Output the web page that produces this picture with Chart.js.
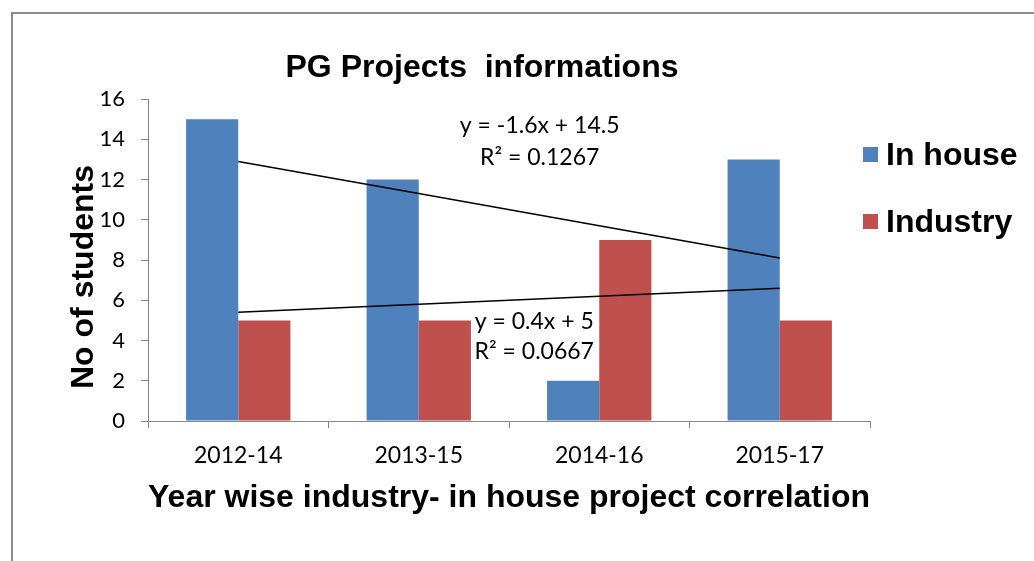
<!DOCTYPE html>
<html>
<head>
<meta charset="utf-8">
<script src="https://cdn.jsdelivr.net/npm/chart.js@4"></script>
<style>
  html, body { margin: 0; padding: 0; background: #fff; }
  #wrap { width: 1034px; height: 561px; position: relative; }
</style>
</head>
<body>
<div id="wrap"><canvas id="myChart" width="1034" height="561"></canvas></div>
<script>
// data
const years = ['2012-14', '2013-15', '2014-16', '2015-17'];
const inHouse = [15, 12, 2, 13];
const industry = [5, 5, 9, 5];
// linear trendlines as shown (y = -1.6x + 14.5 and y = 0.4x + 5)
const inHouseTrend = [12.9, 11.3, 9.7, 8.1];
const industryTrend = [5.4, 5.8, 6.2, 6.6];
const yTicks = [0, 2, 4, 6, 8, 10, 12, 14, 16];

const axisGrey = '#868686';
const bodyFont = 'Lato';
const boldFont = '"Liberation Sans", Arial, sans-serif';

// frame, title, y axis title, legend and trendline equations
const decorPlugin = {
  id: 'decor',
  beforeDraw(chart) {
    const ctx = chart.ctx;
    ctx.save();
    ctx.fillStyle = '#fff';
    ctx.fillRect(0, 0, chart.width, chart.height);
    ctx.strokeStyle = '#8c8c8c';
    ctx.lineWidth = 2;
    ctx.strokeRect(12, 13, chart.width + 20, chart.height + 20);
    ctx.restore();
  },
  afterDatasetsDraw(chart) {
    const ctx = chart.ctx;
    const x = chart.scales.x;
    const y = chart.scales.y;
    const step = x.getPixelForValue(1) - x.getPixelForValue(0);
    ctx.save();

    // title
    ctx.fillStyle = '#000';
    ctx.font = 'bold 32px ' + boldFont;
    ctx.textAlign = 'center';
    ctx.textBaseline = 'middle';
    ctx.fillText('PG Projects  informations', 482, 68);

    // y axis title
    ctx.save();
    ctx.translate(84, 277);
    ctx.rotate(-Math.PI / 2);
    ctx.fillText('No of students', 0, 0);
    ctx.restore();

    // trendline labels
    ctx.font = '23px ' + bodyFont;
    const eqs = [
      ['y = -1.6x + 14.5', 1.67, 14.7],
      ['R² = 0.1267', 1.67, 13.1],
      ['y = 0.4x + 5', 1.64, 4.92],
      ['R² = 0.0667', 1.64, 3.43],
    ];
    eqs.forEach(([t, xi, yv]) => {
      ctx.fillText(t, x.getPixelForValue(0) + xi * step, y.getPixelForValue(yv));
    });

    // legend
    const items = chart.data.datasets.filter(d => d.type !== 'line');
    ctx.font = 'bold 32px ' + boldFont;
    ctx.textAlign = 'left';
    items.forEach((d, i) => {
      const cy = 155 + i * 67;
      ctx.fillStyle = d.backgroundColor;
      ctx.fillRect(863, cy - 8, 15, 15);
      ctx.fillStyle = '#000';
      ctx.fillText(d.label, 886, cy + 1);
    });
    ctx.restore();
  }
};

const ctx = document.getElementById('myChart').getContext('2d');
new Chart(ctx, {
  type: 'bar',
  data: {
    labels: years,
    datasets: [
      {
        type: 'line',
        label: 'In house trend',
        data: inHouseTrend,
        borderColor: '#000',
        borderWidth: 1.5,
        pointRadius: 0,
        fill: false,
        order: 0,
      },
      {
        type: 'line',
        label: 'Industry trend',
        data: industryTrend,
        borderColor: '#000',
        borderWidth: 1.5,
        pointRadius: 0,
        fill: false,
        order: 0,
      },
      {
        label: 'In house',
        data: inHouse,
        backgroundColor: '#4F81BD',
        categoryPercentage: 0.578,
        barPercentage: 1,
        order: 1,
      },
      {
        label: 'Industry',
        data: industry,
        backgroundColor: '#C0504D',
        categoryPercentage: 0.578,
        barPercentage: 1,
        order: 1,
      },
    ],
  },
  options: {
    responsive: false,
    animation: false,
    layout: {
      padding: { left: 0, top: 99, right: 164, bottom: 0 },
    },
    plugins: {
      legend: { display: false },
      title: { display: false },
      tooltip: { enabled: false },
    },
    scales: {
      x: {
        offset: true,
        grid: {
          display: true,
          drawOnChartArea: false,
          drawTicks: true,
          tickLength: 7,
          color: axisGrey,
        },
        border: { color: axisGrey, width: 1 },
        ticks: {
          color: '#000',
          padding: 14,
          font: { family: bodyFont, size: 23 },
        },
        title: {
          display: true,
          text: 'Year wise industry- in house project correlation',
          color: '#000',
          font: { family: boldFont, size: 32, weight: 'bold', lineHeight: 1.2 },
          padding: { top: 0, bottom: 44 },
          align: 'center',
        },
        afterFit(scale) {
          scale.height = 140;
        },
      },
      y: {
        min: 0,
        max: 16,
        afterBuildTicks(scale) {
          scale.ticks = yTicks.map(v => ({ value: v }));
        },
        grid: {
          display: true,
          drawOnChartArea: false,
          drawTicks: true,
          tickLength: 7,
          color: axisGrey,
        },
        border: { color: axisGrey, width: 1 },
        ticks: {
          color: '#000',
          padding: 16,
          font: { family: bodyFont, size: 22 },
        },
        afterFit(scale) {
          scale.width = 148;
        },
      },
    },
  },
  plugins: [decorPlugin],
});
</script>
</body>
</html>
